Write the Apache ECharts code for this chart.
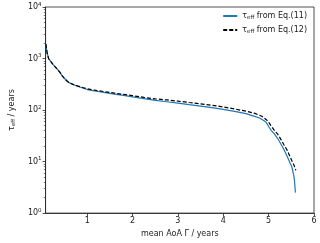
<!DOCTYPE html>
<html><head><meta charset="utf-8">
<script src="https://cdn.jsdelivr.net/npm/echarts@6/dist/echarts.min.js"></script>
<style>html,body{margin:0;padding:0;background:#fff}#c{width:320px;height:243px}</style>
</head><body><div id="c"></div>
<script>
// mean AoA (years) and tau_eff (years)
const xBlue = [0.09,0.10,0.12,0.15,0.20,0.25,0.30,0.35,0.40,0.45,0.50,0.55,0.60,0.70,0.80,0.90,1.0,1.2,1.4,1.6,1.8,2.0,2.25,2.5,2.75,3.0,3.25,3.5,3.75,4.0,4.25,4.5,4.64,4.8,4.9,4.95,5.0,5.06,5.13,5.2,5.27,5.34,5.41,5.47,5.51,5.55,5.57,5.59];
const tauEq11 = [1900,1600,1250,1000,870,760,680,610,540,460,410,370,340,310,288,268,250,232,217,204,192,180,166,154,145,136,127,119,111,103,94,85,78,70,62,57,48,40,34,28,22,17,12.5,9.5,8,5.6,4.3,2.5];
const xBlack = [0.09,0.10,0.12,0.15,0.20,0.25,0.30,0.35,0.40,0.45,0.50,0.55,0.60,0.70,0.80,0.90,1.0,1.2,1.4,1.6,1.8,2.0,2.25,2.5,2.75,3.0,3.25,3.5,3.75,4.0,4.25,4.5,4.7,4.85,4.95,5.0,5.05,5.13,5.2,5.27,5.34,5.41,5.47,5.51,5.56,5.6];
const tauEq12 = [1900,1600,1250,1000,870,760,680,610,540,460,410,370,340,312,292,274,258,240,226,213,201,190,176,165,157,149,140,132,124,115,105,95,86,76,65,58,50,40,34,27,21,16.5,12.5,10.5,8.5,6.8];
const xTicks = [1,2,3,4,5,6];
const yMinor = [2,3,4,5,6,7,8,9,20,30,40,50,60,70,80,90,200,300,400,500,600,700,800,900,2000,3000,4000,5000,6000,7000,8000,9000];

const FONT = 'DejaVu Sans';
const C = '#222';
const richBase = {a:{fontFamily:FONT,fontSize:8,color:C},s:{fontFamily:FONT,fontSize:5.5,color:C,padding:[4,0,0,0]},p:{fontFamily:FONT,fontSize:5.5,color:C,padding:[0,0,5,0]}};
const chart = echarts.init(document.getElementById('c'), null, {renderer:'canvas'});
chart.setOption({
  animation:false,
  textStyle:{fontFamily:FONT},
  grid:{left:34,top:7,right:6,bottom:26,show:true,borderColor:C,borderWidth:0.8,backgroundColor:'transparent'},
  legend:{
    show:true, right:8, top:7, orient:'vertical', itemWidth:14, itemHeight:8, itemGap:5,
    itemStyle:{color:'transparent',borderWidth:0,opacity:0},
    textStyle:{fontFamily:FONT,fontSize:8,color:C,rich:richBase},
    formatter:function(n){return n==='e11'?'{a|τ}{s|eff}{a| from Eq.(11)}':'{a|τ}{s|eff}{a| from Eq.(12)}';},
    data:['e11','e12']
  },
  xAxis:{type:'value',min:0.083,max:6,
    name:'mean AoA Γ / years',nameLocation:'middle',nameGap:16,
    nameTextStyle:{fontFamily:FONT,fontSize:8,color:C},
    axisLine:{show:true,onZero:false,lineStyle:{color:C,width:0.8}},
    axisTick:{show:true,length:3,customValues:xTicks,lineStyle:{color:C,width:0.8}},
    axisLabel:{customValues:xTicks,fontFamily:FONT,fontSize:8,color:C,margin:4},
    splitLine:{show:false}},
  yAxis:[{type:'log',logBase:10,min:1,max:10000,
    name:'{a|τ}{s|eff}{a| / years}',nameLocation:'middle',nameGap:26,nameRotate:90,
    nameTextStyle:{rich:richBase},
    axisLine:{show:true,lineStyle:{color:C,width:0.8}},
    axisTick:{show:true,length:3,lineStyle:{color:C,width:0.8}},
    axisLabel:{fontFamily:FONT,fontSize:8,color:C,margin:4,rich:richBase,
      formatter:function(v){const e=Math.round(Math.log10(v));return '{a|10}{p|'+e+'}';}},
    splitLine:{show:false}},
   {type:'value',min:0,max:4,position:'left',
    axisLine:{show:false},axisLabel:{show:false},splitLine:{show:false},
    axisTick:{show:true,length:1.8,customValues:yMinor.map(v=>Math.log10(v)),lineStyle:{color:C,width:0.6}}}],
  series:[
    {name:'e11',type:'line',showSymbol:false,symbol:'none',
      data:xBlue.map((x,i)=>[x,tauEq11[i]]),
      lineStyle:{color:'#1f77b4',width:1.2},itemStyle:{color:'#1f77b4'},z:2},
    {name:'e12',type:'line',showSymbol:false,symbol:'none',
      data:xBlack.map((x,i)=>[x,tauEq12[i]]),
      lineStyle:{color:'#000',width:1.2,type:[4,2]},itemStyle:{color:'#000'},z:3}
  ]
});
</script></body></html>
